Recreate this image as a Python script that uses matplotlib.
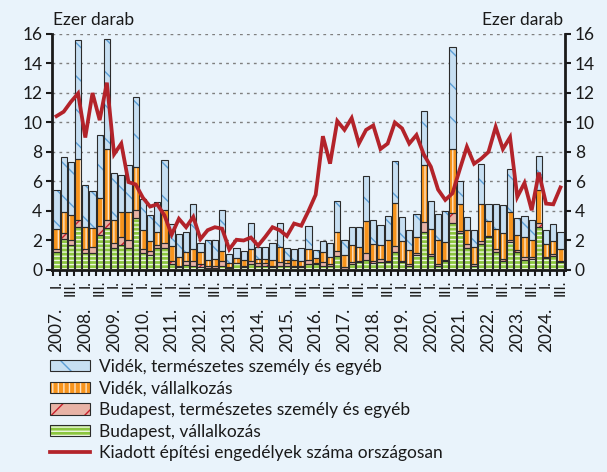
import matplotlib
matplotlib.use("Agg")
import matplotlib.pyplot as plt
from matplotlib.patches import Patch
from matplotlib.lines import Line2D
from matplotlib.legend_handler import HandlerTuple
import numpy as np

plt.rcParams['font.family'] = ['Lato', 'DejaVu Sans']
plt.rcParams['hatch.linewidth'] = 1.0

# quarterly data, 2007 Q1 - 2024 Q3, thousand units
years = list(range(2007, 2025))
bp_vall = [1.2, 2.11, 1.66, 2.9, 1.16, 1.13, 2.38, 2.83, 1.5, 1.66, 1.5, 3.54,
           1.13, 1.04, 1.5, 1.5, 0.4, 0.18, 0.36, 0.3, 0.2, 0.15, 0.15, 0.3,
           0.14, 0.45, 0.18, 0.4, 0.3, 0.3, 0.18, 0.3, 0.3, 0.18, 0.18, 0.41,
           0.4, 0.3, 0.3, 0.98, 0.1, 0.41, 0.52, 0.68, 0.45, 0.57, 0.52, 1.2,
           0.52, 0.3, 1.02, 2.56, 0.98, 0.3, 0.59, 3.17, 2.49, 1.5, 0.3, 1.75,
           2.22, 1.2, 0.63, 1.88, 1.2, 0.68, 0.75, 2.9, 0.82, 0.98, 0.52]
bp_term = [0.23, 0.41, 0.4, 0.5, 0.27, 0.46, 0.57, 0.57, 0.34, 0.56, 0.54, 0.54,
           0.3, 0.23, 0.2, 0.34, 0.18, 0.11, 0.27, 0.34, 0.2, 0.15, 0.15, 0.33,
           0.09, 0.05, 0.11, 0.23, 0.18, 0.15, 0.11, 0.23, 0.16, 0.11, 0.11, 0.27,
           0.05, 0.23, 0.11, 0.34, 0.1, 0.11, 0.11, 0.45, 0.14, 0.18, 0.11, 0.45,
           0.11, 0.11, 0.11, 0.68, 0.11, 0.11, 0.09, 0.68, 0.18, 0.27, 0.11, 0.2,
           0.11, 0.23, 0.11, 0.16, 0.16, 0.18, 0.11, 0.27, 0.09, 0.11, 0.11]
vid_vall = [1.38, 1.4, 1.68, 4.15, 1.5, 1.24, 1.95, 4.79, 1.56, 1.7, 1.88, 2.9,
            1.29, 0.68, 0.86, 2.2, 1.02, 0.57, 0.57, 0.79, 0.8, 0.35, 0.45, 0.68,
            0.23, 0.3, 0.39, 0.8, 0.27, 0.3, 0.39, 1.02, 0.23, 0.39, 0.34, 0.73,
            0.34, 0.68, 0.45, 1.25, 0.8, 1.2, 0.91, 2.22, 1.18, 0.91, 1.41, 2.88,
            1.36, 0.95, 1.09, 3.85, 1.7, 1.63, 1.22, 4.38, 1.77, 0.91, 1.18, 2.49,
            0.98, 1.36, 1.75, 1.88, 1.04, 1.36, 1.18, 2.27, 0.82, 0.86, 0.79]
vid_term = [2.63, 3.72, 3.58, 8.03, 2.81, 2.52, 4.28, 7.48, 3.18, 2.52, 3.22, 4.72,
            2.11, 1.75, 2.02, 3.4, 1.5, 1.6, 1.35, 3.07, 0.6, 1.35, 1.25, 2.73,
            0.59, 0.7, 0.63, 1.75, 0.8, 0.8, 1.16, 1.63, 0.82, 0.75, 0.87, 1.54,
            0.57, 0.75, 0.95, 2.1, 1.0, 1.18, 1.36, 3.02, 1.59, 1.38, 1.63, 2.86,
            1.59, 1.38, 1.59, 3.7, 1.88, 1.77, 2.09, 6.92, 1.59, 0.91, 1.13, 2.75,
            1.13, 1.66, 1.9, 2.95, 1.11, 1.45, 1.36, 2.31, 0.95, 1.18, 1.18]
orszagos = [10.43, 10.73, 11.4, 11.97, 8.98, 12.0, 10.16, 12.7, 7.85, 8.57, 5.96, 5.8,
            4.9, 4.3, 4.45, 3.7, 2.4, 3.47, 2.9, 3.6, 2.1, 2.7, 2.9, 2.8,
            1.4, 2.05, 2.0, 2.2, 1.65, 2.25, 2.9, 2.7, 2.3, 3.15, 3.0, 4.0,
            5.1, 9.07, 7.21, 10.1, 9.5, 10.3, 8.57, 9.5, 9.8, 8.2, 8.57, 10.0,
            9.6, 8.57, 9.15, 7.85, 7.0, 5.45, 4.75, 5.2, 6.8, 8.35, 7.2, 7.55,
            8.0, 9.7, 8.2, 9.0, 4.95, 5.9, 4.05, 6.6, 4.5, 4.45, 5.6]

labels = ["Vidék, természetes személy és egyéb", "Vidék, vállalkozás",
          "Budapest, természetes személy és egyéb", "Budapest, vállalkozás",
          "Kiadott építési engedélyek száma országosan"]

bg = '#e9f3fb'
edge = '#2b2b2b'
fig = plt.figure(figsize=(6.07, 4.72), dpi=100, facecolor=bg)
ax = fig.add_axes([0.0857, 0.428, 0.845, 0.5])
ax.set_facecolor(bg)

n = len(orszagos)
x = np.arange(n)
w = 0.86
series = [
    (bp_vall, '#8cc63f', '#eef7e2', '----'),
    (bp_term, '#e8b3a6', '#c8202c', '/'),
    (vid_vall, '#f7941d', '#fde3c3', '|||'),
    (vid_term, '#c7dff2', '#5c9fd6', '\\'),
]
bottom = np.zeros(n)
handles = []
for vals, face, hcol, hatch in series:
    vals = np.array(vals)
    ax.bar(x, vals, w, bottom=bottom, color=face, edgecolor=hcol, hatch=hatch,
           linewidth=0, zorder=2)
    ax.bar(x, vals, w, bottom=bottom, fill=False, edgecolor=edge, linewidth=0.8, zorder=3)
    handles.append((Patch(facecolor=face, edgecolor=hcol, hatch=hatch, linewidth=0),
                    Patch(fill=False, edgecolor=edge, linewidth=0.8)))
    bottom += vals
handles = handles[::-1]

ax.plot(x, orszagos, color='#b3232a', linewidth=2.7, zorder=4, solid_joinstyle='miter')
handles.append(Line2D([], [], color='#b3232a', linewidth=2.7))

ax.set_ylim(0, 16)
ax.set_xlim(-0.62, n - 0.38)
ax.set_yticks(range(0, 17, 2))
ax.yaxis.grid(True, color='#7f7f7f', linestyle=(0, (2, 3)), linewidth=1)
ax.set_axisbelow(True)
for s in ['left', 'right', 'bottom']:
    ax.spines[s].set_linewidth(2)
    ax.spines[s].set_color('#1a1a1a')
ax.spines['top'].set_visible(False)
ax.tick_params(axis='y', left=True, right=True, labelleft=True, labelright=True,
               direction='out', length=4, width=1.5, labelsize=12.5, pad=3,
               color='#1a1a1a', labelcolor='#1a1a1a')

ticks = []
ticklabels = []
for i in range(len(years)):
    for q, lab in [(0, 'I.'), (2, 'III.')]:
        if 4 * i + q < n:
            ticks.append(4 * i + q)
            ticklabels.append(lab)
ax.set_xticks(ticks)
ax.set_xticklabels(ticklabels, rotation=90, fontsize=11, color='#1a1a1a')
ax.set_xticks(np.arange(-0.5, n, 1), minor=True)
ax.tick_params(axis='x', which='major', length=0, pad=7)
ax.tick_params(axis='x', which='minor', length=4.5, width=1.5, color='#1a1a1a')

for i, yr in enumerate(years):
    ax.text(4 * i, -0.16, f"{yr}.", transform=ax.get_xaxis_transform(), rotation=90,
            ha='center', va='top', fontsize=12.5, color='#1a1a1a')

fig.text(53 / 607, 1 - 20 / 472, "Ezer darab", ha='left', va='center', fontsize=12.5,
         color='#1a1a1a')
fig.text(563 / 607, 1 - 20 / 472, "Ezer darab", ha='right', va='center', fontsize=12.5,
         color='#1a1a1a')

fig.legend(handles, labels, handler_map={tuple: HandlerTuple(ndivide=1, pad=0)},
           loc='upper left', bbox_to_anchor=(50 / 607, 1 - 359 / 472), frameon=False,
           fontsize=12.5, handlelength=2.3, handleheight=0.6, handletextpad=0.5,
           labelspacing=0.32, borderpad=0, borderaxespad=0, labelcolor='#1a1a1a')

fig.savefig("out.png", dpi=100, facecolor=bg)
